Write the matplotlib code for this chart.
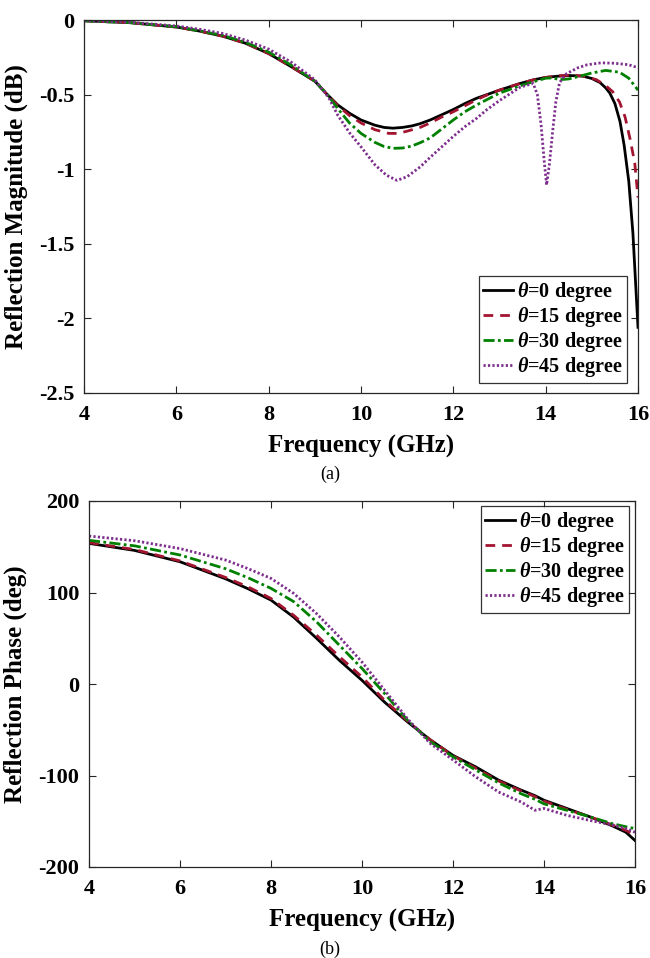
import numpy as np
import matplotlib
matplotlib.use("Agg")
import matplotlib.pyplot as plt

plt.rcParams['font.family'] = ['Liberation Serif', 'DejaVu Serif']
plt.rcParams['font.weight'] = 'bold'
plt.rcParams['mathtext.fontset'] = 'custom'
plt.rcParams['mathtext.it'] = 'Liberation Serif:italic'
plt.rcParams['mathtext.rm'] = 'Liberation Serif:bold'

labels = [r'$\theta$=0 degree', r'$\theta$=15 degree', r'$\theta$=30 degree', r'$\theta$=45 degree']
colors = ['#000000', '#A2142F', '#008000', '#7E2F8E']
styles = ['-', (0, (3.5, 2.5)), (0, (4, 1.2, 1, 1.2)), (0, (0.8, 0.8))]

# ---- (a) Reflection magnitude (dB) ----
f0 = [4, 5, 6, 6.5, 7, 7.5, 8, 8.5, 9, 9.27, 9.5, 9.75, 10, 10.3, 10.5, 10.69, 10.9, 11.1, 11.28, 11.5, 11.75, 12, 12.25, 12.5, 12.73, 13,
      13.45, 13.75, 14, 14.25, 14.5, 14.8, 15.0, 15.18, 15.3, 15.39, 15.5, 15.61, 15.7, 15.8, 15.89, 16.0]
m0 = [-0.005, -0.018, -0.047, -0.074, -0.108, -0.156, -0.225, -0.315, -0.41, -0.5, -0.57, -0.625, -0.67, -0.705, -0.72, -0.725, -0.72, -0.71, -0.695, -0.67, -0.635, -0.60, -0.56, -0.525, -0.50, -0.47,
      -0.425, -0.40, -0.385, -0.377, -0.372, -0.376, -0.392, -0.42, -0.455, -0.49, -0.56, -0.68, -0.84, -1.08, -1.43, -2.06]
f15 = [4, 5, 6, 6.5, 7, 7.5, 8, 8.5, 9, 9.27, 9.5, 9.75, 10, 10.3, 10.6, 10.8, 11, 11.28, 11.5, 11.75, 12, 12.25, 12.5, 12.75, 13,
       13.45, 13.75, 14, 14.25, 14.5, 14.8, 15.1, 15.3, 15.45, 15.6, 15.72, 15.83, 15.93, 16.0]
m15 = [-0.005, -0.018, -0.047, -0.074, -0.108, -0.156, -0.225, -0.315, -0.41, -0.5, -0.575, -0.64, -0.69, -0.735, -0.76, -0.76, -0.745, -0.72, -0.69, -0.65, -0.615, -0.575, -0.535, -0.5, -0.47,
       -0.425, -0.40, -0.385, -0.375, -0.37, -0.375, -0.40, -0.44, -0.48, -0.55, -0.65, -0.80, -0.96, -1.19]
f30 = [4, 5, 6, 6.5, 7, 7.5, 8, 8.5, 9, 9.27, 9.5, 9.75, 10, 10.3, 10.5, 10.7, 10.9, 11.1, 11.3, 11.5, 11.75, 12, 12.25, 12.5, 12.75, 13, 13.5, 14,
       14.15, 14.3, 14.5, 14.7, 15.0, 15.3, 15.6, 15.8, 16.0]
m30 = [-0.005, -0.018, -0.045, -0.072, -0.103, -0.15, -0.215, -0.305, -0.41, -0.5, -0.595, -0.69, -0.76, -0.82, -0.848, -0.86, -0.858, -0.845, -0.82, -0.79, -0.73, -0.67, -0.615, -0.57, -0.53, -0.49, -0.435, -0.39,
       -0.388, -0.40, -0.395, -0.38, -0.355, -0.338, -0.35, -0.39, -0.47]
f45 = [4, 5, 6, 6.5, 7, 7.5, 8, 8.5, 9, 9.3, 9.5, 9.75, 10, 10.3, 10.55, 10.78, 11, 11.28, 11.5, 11.75, 12, 12.25, 12.5, 12.73, 13, 13.45, 13.73,
       13.82, 13.9, 13.97, 14.02, 14.08, 14.15, 14.22, 14.3, 14.45, 14.7, 14.9, 15.2, 15.5, 15.8, 16.0]
m45 = [-0.004, -0.015, -0.04, -0.062, -0.09, -0.135, -0.195, -0.285, -0.40, -0.52, -0.64, -0.755, -0.85, -0.97, -1.04, -1.075, -1.05, -0.985, -0.92, -0.85, -0.78, -0.715, -0.66, -0.60, -0.54, -0.45, -0.425,
       -0.50, -0.70, -0.95, -1.106, -0.97, -0.75, -0.55, -0.42, -0.36, -0.32, -0.30, -0.287, -0.29, -0.30, -0.32]

# ---- (b) Reflection phase (deg) ----
fp = [4, 5, 6, 7, 7.5, 8, 8.5, 9, 9.5, 10, 10.5, 11, 11.5, 12, 12.5, 13, 13.5, 13.8, 14, 14.5, 15, 15.5, 15.8, 16]
p0 = [153.7, 146, 133.6, 115, 104, 91.7, 73, 50, 26, 4, -20, -41.4, -61, -78, -90.6, -105, -116, -122, -127, -136, -145, -155, -162, -171]
p15 = [154.5, 147, 134.5, 116.5, 106, 93.5, 75, 53.4, 30, 7.7, -18, -40.5, -61, -78.5, -92, -106, -117, -123, -128, -137, -145, -154, -160, -165]
p30 = [157, 151, 141, 126, 116, 104.5, 90, 68, 42.5, 17, -10.6, -39.6, -63, -79.6, -94, -108, -120, -126, -131, -138, -145, -152.6, -156, -158]
p45 = [161.7, 156.6, 148, 135.5, 126, 115.4, 99, 77, 51.6, 24, -7, -38, -65, -83, -101.5, -118, -129, -138, -136, -143.5, -149, -154, -158, -162]

xticks = [4, 6, 8, 10, 12, 14, 16]
yticks_a = [0, -0.5, -1, -1.5, -2, -2.5]
yticks_b = [200, 100, 0, -100, -200]

fig = plt.figure(figsize=(6.5, 9.58), dpi=100)
ax1 = fig.add_axes([84/650, 1-393/958, 554/650, 373/958])
ax2 = fig.add_axes([89/650, 1-867/958, 546/650, 366/958])

mag = [(f0, m0), (f15, m15), (f30, m30), (f45, m45)]
ph = [p0, p15, p30, p45]

for (fx, my), c, ls, lab in zip(mag, colors, styles, labels):
    ax1.plot(fx, my, color=c, linestyle=ls, lw=2.0, label=lab)
for py, c, ls, lab in zip(ph, colors, styles, labels):
    ax2.plot(fp, py, color=c, linestyle=ls, lw=2.0, label=lab)

def style(ax, yt, ylim, ylabel, anchor, loc):
    ax.set_xlim(4, 16)
    ax.set_ylim(*ylim)
    ax.set_xticks(xticks)
    ax.set_yticks(yt)
    ax.set_yticklabels([('%g' % v) for v in yt])
    ax.tick_params(direction='in', top=True, right=True, length=5, width=0.8,
                   labelsize=16, color='#262626')
    ax.tick_params(axis='x', pad=9)
    ax.tick_params(axis='y', pad=7)
    for lbl in ax.get_xticklabels() + ax.get_yticklabels():
        lbl.set_fontweight('bold')
    for s in ax.spines.values():
        s.set_color('#262626')
        s.set_linewidth(0.9)
    ax.set_xlabel('Frequency (GHz)', fontsize=18, fontweight='bold', labelpad=7)
    ax.set_ylabel(ylabel, fontsize=18, fontweight='bold', labelpad=8)
    leg = ax.legend(loc=loc, bbox_to_anchor=anchor, bbox_transform=fig.transFigure,
                    frameon=True, fancybox=False, edgecolor='#000000',
                    handlelength=1.5, handletextpad=0.2, labelspacing=0.05, borderpad=0.2,
                    borderaxespad=0.0, prop={'weight': 'bold', 'size': 14.5})
    leg.get_frame().set_linewidth(0.9)

style(ax1, yticks_a, (-2.5, 0), 'Reflection Magnitude (dB)', (627/650, 1-383/958), 'lower right')
style(ax2, yticks_b, (-200, 200), 'Reflection Phase (deg)', (629/650, 1-506/958), 'upper right')

fig.text(330/650, 1-474/958, '(a)', ha='center', va='center', fontsize=13, fontweight='normal')
fig.text(330/650, 1-949/958, '(b)', ha='center', va='center', fontsize=13, fontweight='normal')

fig.savefig('out.png', dpi=100)
